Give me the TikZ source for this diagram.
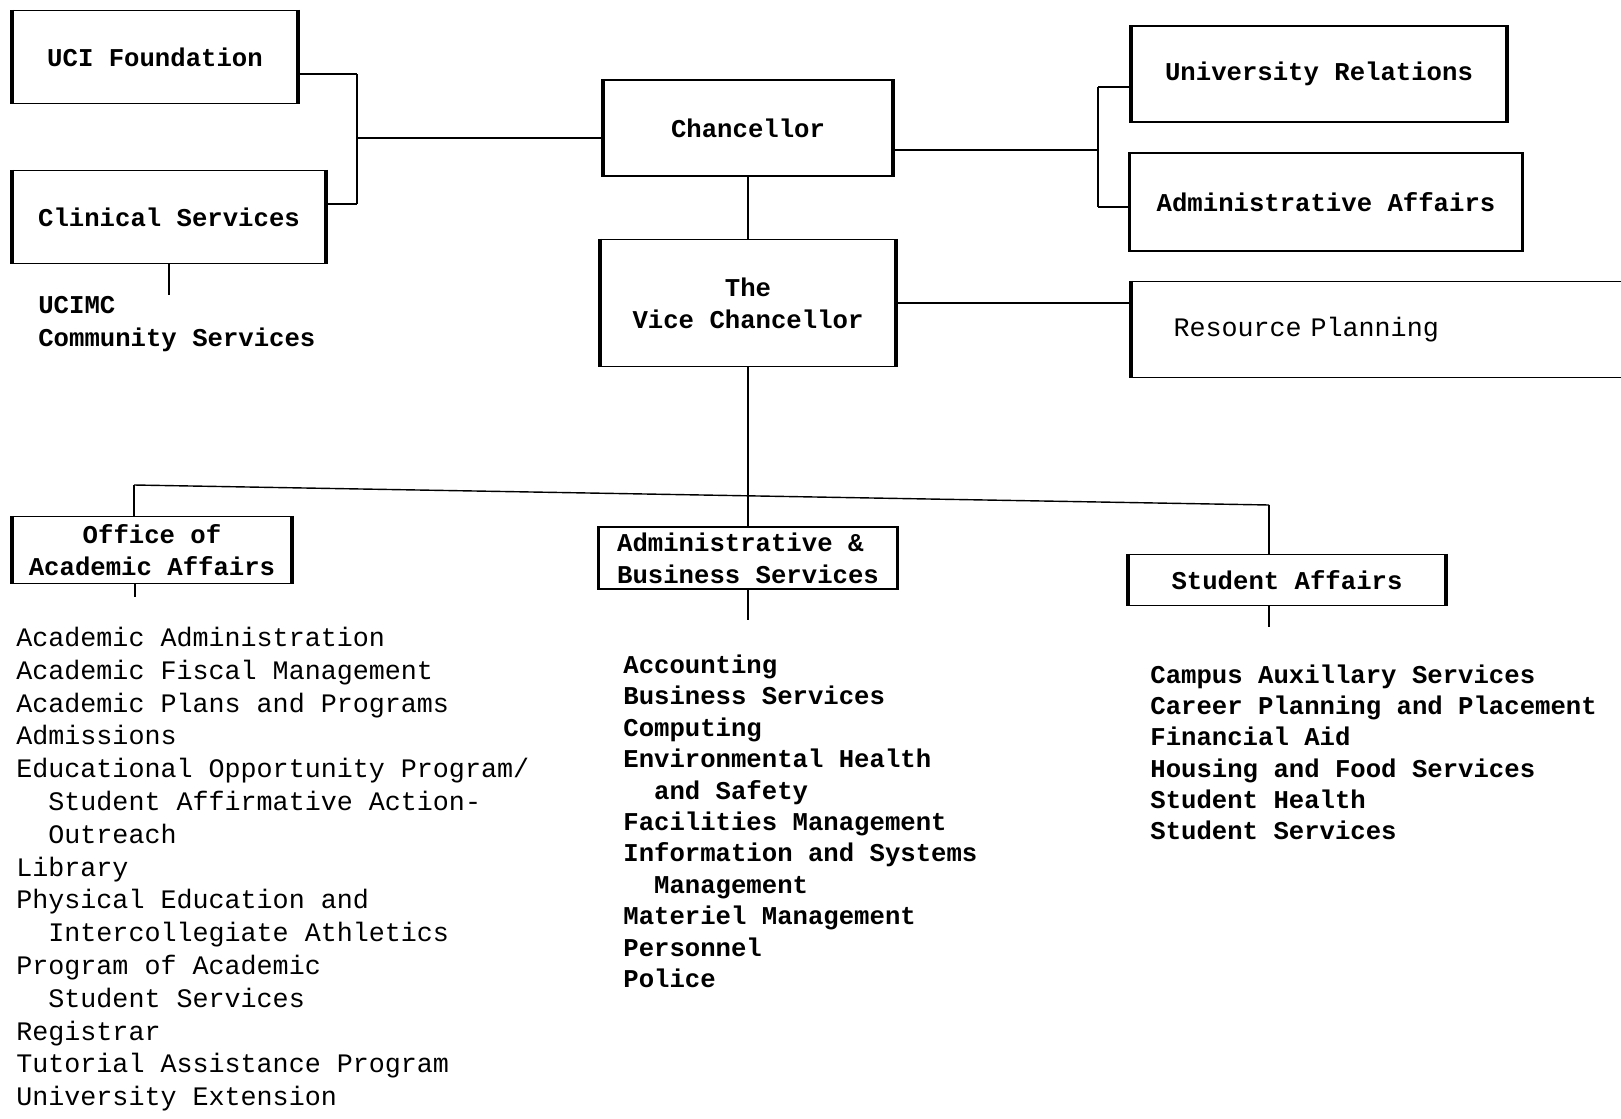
\documentclass[tikz,border=0pt]{standalone}
\usepackage{fontspec}
\setmonofont{Liberation Mono}
\usepackage{tikz}
\newcommand{\boldtype}{\ttfamily\bfseries\fontsize{14.6}{18.2}\selectfont}
\newcommand{\plaintype}{\ttfamily\fontsize{15.2}{19}\selectfont}
\newcommand{\ind}{\hspace*{1.2em}}

\begin{document}
\begin{tikzpicture}[
    x=0.02cm, y=-0.02cm,
    orgbox/.style={draw, line width=0.6pt, inner sep=0pt, align=center, font=\boldtype},
    side/.style={line width=2.2pt},
    link/.style={line width=0.8pt},
    tick/.style={line width=1.6pt},
    item/.style={anchor=west, inner sep=0pt, text height=0.7em, text depth=0.2em},
]
\useasboundingbox (0,0) rectangle (1621,1118);

% Boxes
\node[orgbox, minimum width=5.70cm, minimum height=1.86cm] (uci) at (155,57) {UCI Foundation};
\node[orgbox, minimum width=6.26cm, minimum height=1.86cm] (clin) at (169,217) {Clinical Services};
\node[orgbox, minimum width=5.78cm, minimum height=1.92cm] (chan) at (748,128) {Chancellor};
\node[orgbox, minimum width=5.90cm, minimum height=2.54cm] (vc) at (748,303) {The\\Vice Chancellor};
\node[orgbox, minimum width=7.50cm, minimum height=1.92cm] (urel) at (1319,74) {University Relations};
\node[orgbox, minimum width=7.84cm, minimum height=1.96cm] (aaff) at (1326,202) {Administrative Affairs};
\node[orgbox, anchor=north west, minimum height=1.92cm, text width=11.7cm, inner xsep=0.84cm,
      align=left, font=\plaintype] (rplan) at (1131,281) {Resource Planning};
\node[orgbox, minimum width=5.58cm, minimum height=1.34cm] (oaa) at (152,550) {Office of\\Academic Affairs};
\node[orgbox, minimum width=5.96cm, minimum height=1.24cm, align=left] (abs) at (748,558) {Administrative \&\\Business Services};
\node[orgbox, minimum width=6.34cm, minimum height=1.02cm] (saff) at (1287,580) {Student Affairs};

% Thick box sides
\foreach \n in {uci,clin,chan,vc,urel,aaff,rplan,oaa,abs,saff}
  \draw[side] (\n.north west) -- (\n.south west) (\n.north east) -- (\n.south east);

% Left bracket
\coordinate (lbtop) at (357,74);
\coordinate (lbbot) at (357,204);
\coordinate (lbmid) at (357,138);
\draw[link] (uci.east |- lbtop) -- (lbtop);
\draw[link] (clin.east |- lbbot) -- (lbbot);
\draw[tick] (lbtop) -- (lbbot);
\draw[link] (lbmid) -- (chan.west |- lbmid);

% Right bracket
\coordinate (rbtop) at (1098,87);
\coordinate (rbbot) at (1098,207);
\coordinate (rbmid) at (1098,150);
\draw[link] (chan.east |- rbmid) -- (rbmid);
\draw[tick] (rbtop) -- (rbbot);
\draw[link] (rbtop) -- (urel.west |- rbtop);
\draw[link] (rbbot) -- (aaff.west |- rbbot);

% Chancellor line
\draw[tick] (chan.south) -- (vc.north);
\draw[link] (vc.east) -- (vc.east -| rplan.west);

% Bus
\coordinate (busl) at (134,485);
\coordinate (busr) at (1269,505);
\draw[link] (busl) -- (busr);
\draw[tick] (vc.south) -- (abs.north);
\draw[tick] (busl) -- (busl |- oaa.north);
\draw[tick] (busr) -- (busr |- saff.north);

% Drops to the lists
\coordinate (clinend) at (169,295);
\coordinate (oaaend) at (135,597);
\coordinate (absend) at (748,620);
\coordinate (saffend) at (1269,627);
\draw[tick] (clin.south) -- (clinend);
\draw[tick] (oaaend |- oaa.south) -- (oaaend);
\draw[tick] (abs.south) -- (absend);
\draw[tick] (saffend |- saff.south) -- (saffend);

% Clinical units
\node[item, font=\boldtype] (ucimc) at (38,309) {UCIMC};
\node[item, font=\boldtype] (commsvc) at (38,342) {Community Services};

% Academic units
\foreach \t [count=\i from 0] in {Academic Administration, Academic Fiscal Management,
    Academic Plans and Programs, Admissions, Educational Opportunity Program/,
    \ind Student Affirmative Action-, \ind Outreach, Library, Physical Education and,
    \ind Intercollegiate Athletics, Program of Academic, \ind Student Services,
    Registrar, Tutorial Assistance Program, University Extension}
  \node[item, font=\plaintype] (acad-\i) at (16, {642+32.8*\i}) {\t};

% Business units
\foreach \t [count=\i from 0] in {Accounting, Business Services, Computing,
    Environmental Health, \ind and Safety, Facilities Management,
    Information and Systems, \ind Management, Materiel Management, Personnel, Police}
  \node[item, font=\boldtype] (bus-\i) at (623, {669+31.4*\i}) {\t};

% Student units
\foreach \t [count=\i from 0] in {Campus Auxillary Services, Career Planning and Placement,
    Financial Aid, Housing and Food Services, Student Health, Student Services}
  \node[item, font=\boldtype] (stu-\i) at (1150, {679+31.2*\i}) {\t};

\end{tikzpicture}
\end{document}
